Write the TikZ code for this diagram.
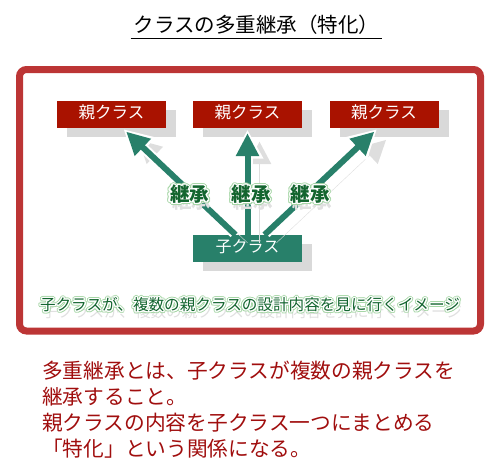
\documentclass[tikz,border=0pt]{standalone}
\usepackage{fontspec}
\setmainfont{Noto Sans CJK JP}
\usepackage{contour}
\usetikzlibrary{arrows.meta,shadows}

\definecolor{framered}{HTML}{BC3535}
\definecolor{boxred}{HTML}{A91200}
\definecolor{boxgreen}{HTML}{28806A}
\definecolor{labelgreen}{HTML}{13652F}
\definecolor{rimgreen}{HTML}{A6D6A6}
\definecolor{notered}{HTML}{A00E0E}

% outlined text: green rim, white halo, then the text, with a faint grey shadow
\newcommand{\glow}[1]{%
  \makebox[0pt][l]{\hspace{2pt}\raisebox{-7pt}{\textcolor{black!12}{#1}}}%
  \makebox[0pt][l]{\contourlength{2.2pt}\contour{rimgreen}{\textcolor{rimgreen}{#1}}}%
  \contourlength{1.2pt}\contour{white}{#1}}

\tikzset{
  parentbox/.style={fill=boxred,text=white,minimum width=109pt,minimum height=27pt,inner sep=0pt,
    text height=0.74em,text depth=0pt,font=\fontsize{16.5}{16.5}\selectfont,
    drop shadow={shadow xshift=10pt,shadow yshift=-9pt,fill=black!15,opacity=1}},
  childbox/.style={parentbox,fill=boxgreen,font=\fontsize{16}{16}\selectfont},
  inherit/.style={draw=boxgreen,line width=6pt,shorten >=5pt,-{Triangle[width=22pt,length=23pt]},
    preaction={draw=black!13,transform canvas={shift={(12,8)}}},
    preaction={draw=white,line width=10pt,shorten >=1.5pt,shorten <=2pt,-{Triangle[width=30pt,length=29pt]}}},
  inheritlabel/.style={text=labelgreen,inner sep=0pt,text height=0.74em,text depth=0pt,
    font=\fontsize{19.5}{19.5}\selectfont\bfseries},
  caption/.style={inheritlabel,font=\fontsize{15.6}{15.6}\selectfont},
}

\begin{document}
\begin{tikzpicture}[x=1pt,y=-1pt]
      \useasboundingbox (0,0) rectangle (500,472);

      \path (256.5,29) node[inner sep=0pt,text height=0.74em,text depth=0pt,font=\fontsize{20.5}{20.5}\selectfont] (title) {クラスの多重継承（特化）};
      \draw[line width=1.3pt] ([xshift=-3pt,yshift=-5.5pt]title.south west) -- ([xshift=2pt,yshift=-5.5pt]title.south east);

      \draw[line width=7pt,draw=framered,rounded corners=7pt] (19.5,69.5) rectangle (480.5,331);

      \path (111.5,114.5) node[parentbox] (p1) {親クラス};
      \path (247.5,114.5) node[parentbox] (p2) {親クラス};
      \path (384,114.5)   node[parentbox] (p3) {親クラス};
      \path (247.5,248.5) node[childbox]  (c)  {子クラス};

      \draw[inherit] ([xshift=-12pt]c.north) -- ([xshift=11pt]p1.south);
      \draw[inherit] (c.north) -- (p2.south);
      \draw[inherit] ([xshift=17pt]c.north) -- ([xshift=-6pt]p3.south);

      \path (189.5,198) node[inheritlabel] (l1) {\glow{継承}};
      \path (251,198)   node[inheritlabel] (l2) {\glow{継承}};
      \path (310,198)   node[inheritlabel] (l3) {\glow{継承}};

      \path (250,307) node[caption] (cap) {\glow{子クラスが、複数の親クラスの設計内容を見に行くイメージ}};

      \path (42,361) node[anchor=north west,align=left,inner sep=0pt,text=notered,font=\fontsize{20.7}{25.8}\selectfont] (note)
        {多重継承とは、子クラスが複数の親クラスを\\継承すること。\\親クラスの内容を子クラス一つにまとめる\\「特化」という関係になる。};
   \end{tikzpicture}
\end{document}
